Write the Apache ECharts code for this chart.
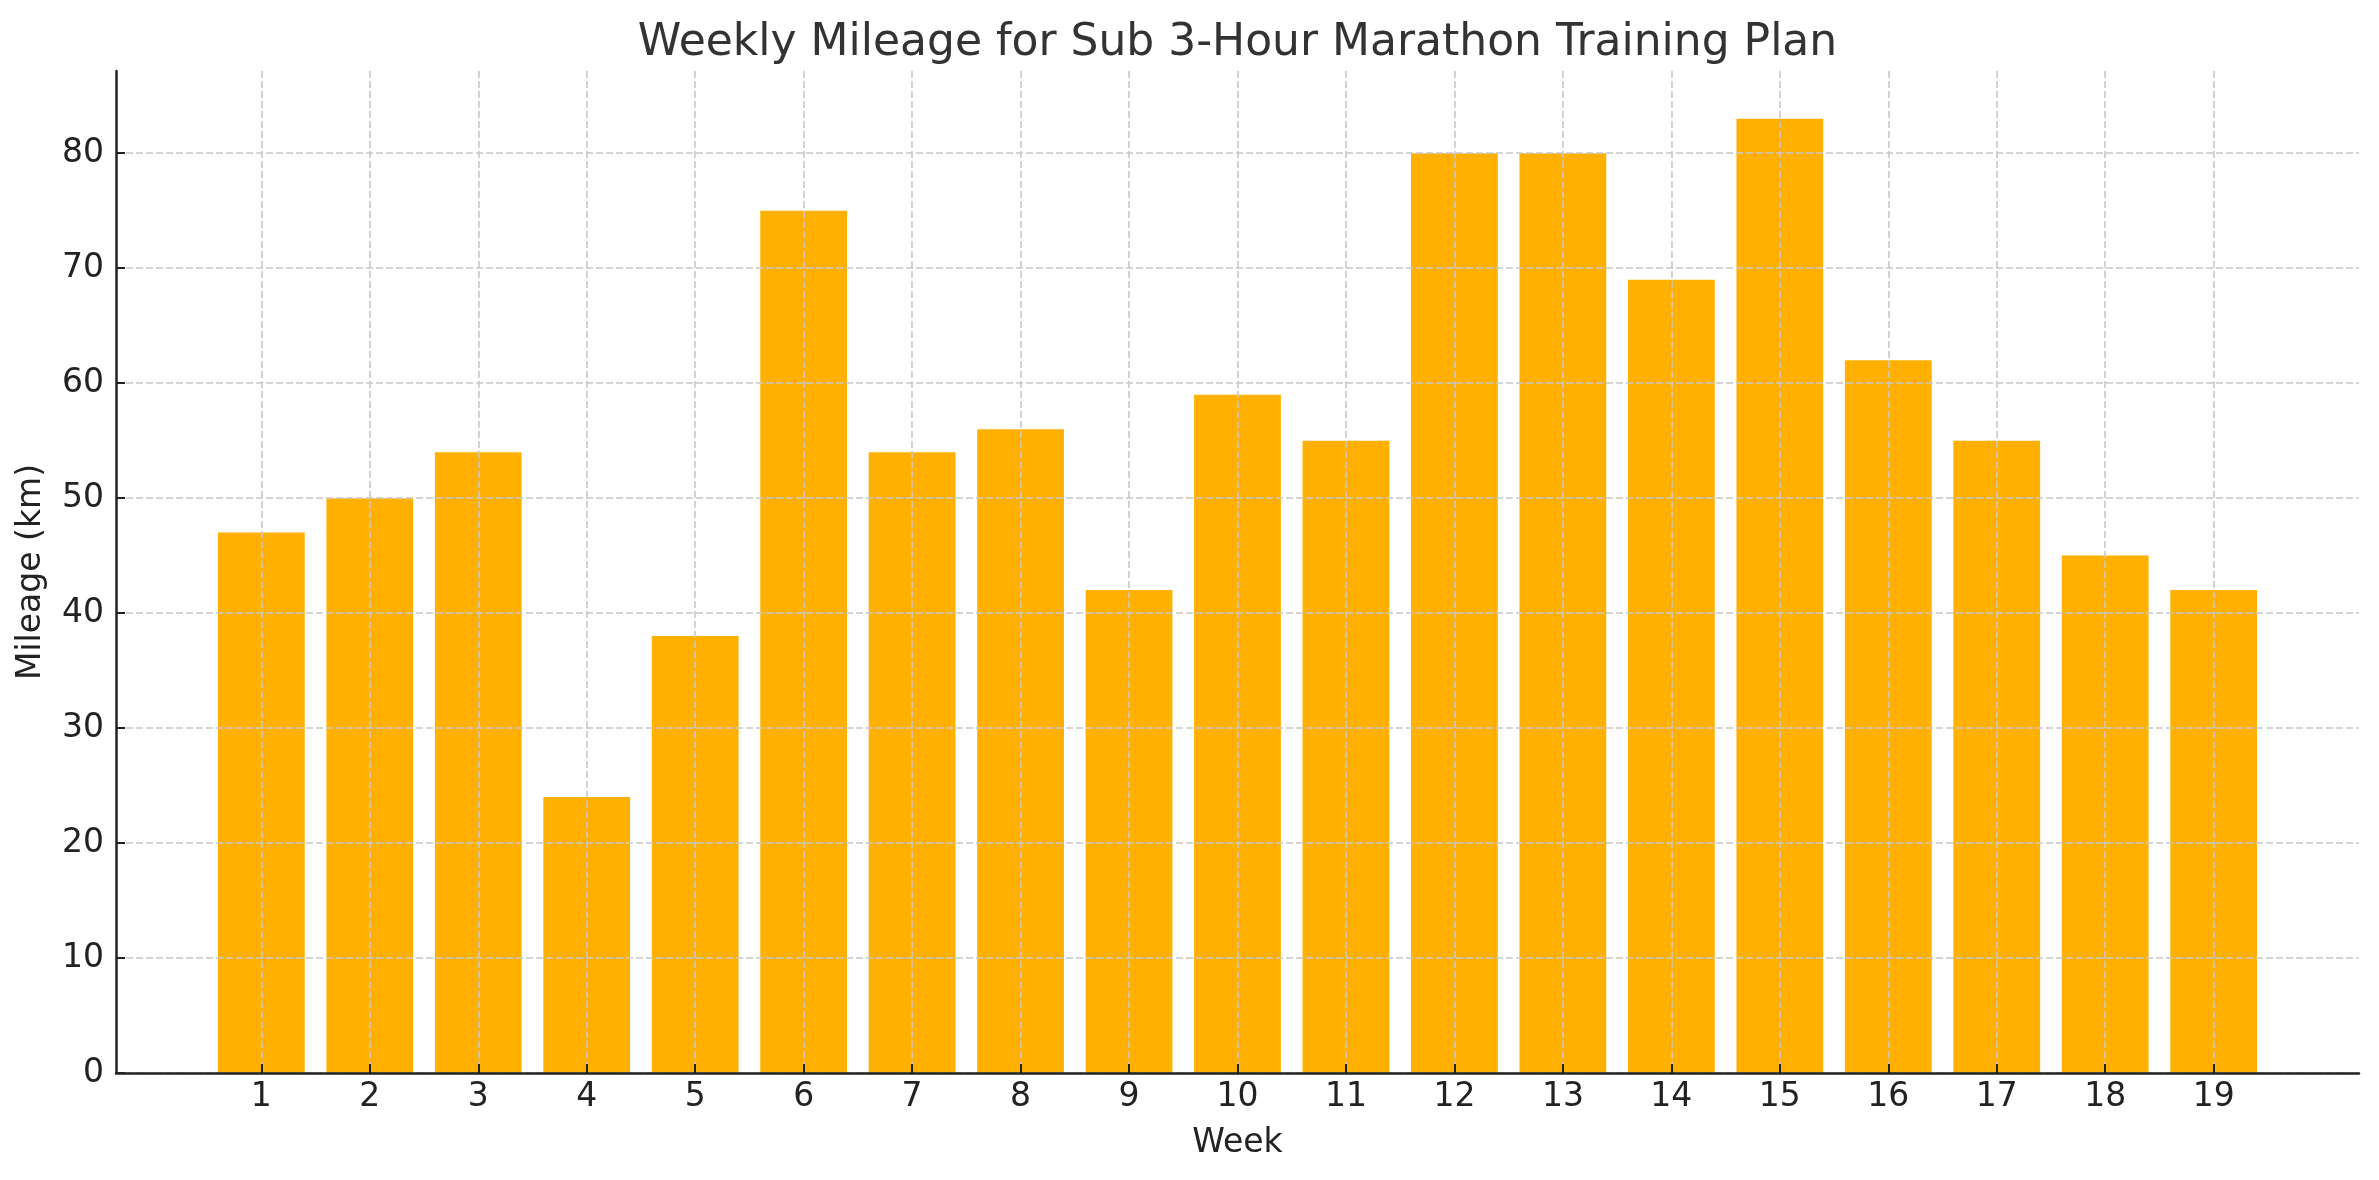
<!DOCTYPE html>
<html>
<head>
<meta charset="utf-8">
<script src="https://cdn.jsdelivr.net/npm/echarts@6/dist/echarts.min.js"></script>
<style>
html,body{margin:0;padding:0;background:#fff;}
#chart{width:2379px;height:1180px;}
</style>
</head>
<body>
<div id="chart"></div>
<script>
const titleText = 'Weekly Mileage for Sub 3-Hour Marathon Training Plan';
const xAxisName = 'Week';
const yAxisName = 'Mileage (km)';
const weeks = [1,2,3,4,5,6,7,8,9,10,11,12,13,14,15,16,17,18,19];
const mileage = [47,50,54,24,38,75,54,56,42,59,55,80,80,69,83,62,55,45,42];
const yTicks = [0,10,20,30,40,50,60,70,80];

const FONT = 'DejaVu Sans';
const gridLeft = 116, gridRight = 20, gridTop = 71, gridBottom = 107;
const xMin = -0.34, xMax = 20.34;
const W = 2379;
const unitPx = (W - gridLeft - gridRight) / (xMax - xMin);

const chart = echarts.init(document.getElementById('chart'), null, {renderer: 'canvas'});
const gridLineStyle = {color: '#c8c8c8', width: 1.6, type: [7, 3]};

chart.setOption({
  animation: false,
  backgroundColor: '#fff',
  graphic: [{
    type: 'text',
    x: (gridLeft + (W - gridRight)) / 2,
    y: 44,
    style: {
      text: titleText,
      fontFamily: FONT,
      fontSize: 44,
      fill: '#333333',
      align: 'center',
      verticalAlign: 'middle'
    }
  }],
  grid: {left: gridLeft, right: gridRight, top: gridTop, bottom: gridBottom, containLabel: false},
  xAxis: {
    type: 'value',
    min: xMin,
    max: xMax,
    z: 5,
    name: xAxisName,
    nameLocation: 'middle',
    nameGap: 54,
    nameTextStyle: {fontFamily: FONT, fontSize: 33, color: '#222222'},
    axisLine: {show: true, onZero: false, lineStyle: {color: '#222222', width: 2.5}},
    axisTick: {show: true, inside: true, length: 9, customValues: weeks, lineStyle: {color: '#222222', width: 2}},
    axisLabel: {show: true, customValues: weeks, margin: 8, fontFamily: FONT, fontSize: 33, color: '#222222'},
    splitLine: {show: true, lineStyle: gridLineStyle}
  },
  yAxis: {
    type: 'value',
    min: 0,
    max: 87.15,
    z: 5,
    name: yAxisName,
    nameLocation: 'middle',
    nameGap: 68,
    nameTextStyle: {fontFamily: FONT, fontSize: 33, color: '#222222'},
    axisLine: {show: true, onZero: false, lineStyle: {color: '#222222', width: 2.5}},
    axisTick: {show: true, inside: true, length: 9, customValues: yTicks, lineStyle: {color: '#222222', width: 2}},
    axisLabel: {show: true, customValues: yTicks, margin: 12, fontFamily: FONT, fontSize: 33, color: '#222222'},
    splitLine: {show: true, lineStyle: gridLineStyle}
  },
  series: [{
    type: 'bar',
    data: weeks.map((w, i) => [w, mileage[i]]),
    barWidth: 0.8 * unitPx,
    itemStyle: {color: '#FFB000'},
    z: 2
  }]
});
</script>
</body>
</html>
